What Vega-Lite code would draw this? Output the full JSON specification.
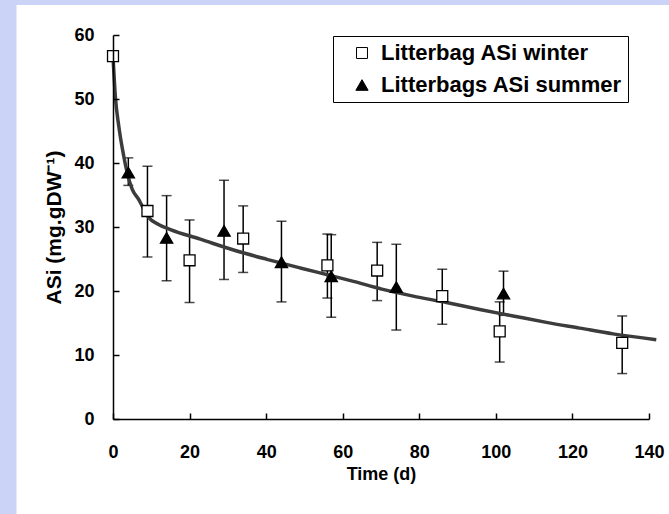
{
  "$schema": "https://vega.github.io/schema/vega-lite/v6.json",
  "width": 536,
  "height": 384,
  "autosize": "none",
  "padding": {"left": 113, "top": 35, "right": 20, "bottom": 95},
  "background": "#CBD4F6",
  "config": {
    "view": {"stroke": null},
    "font": "Liberation Sans",
    "axis": {
      "zindex": 1,
      "grid": false,
      "domainColor": "black",
      "domainWidth": 1.5,
      "tickColor": "black",
      "tickWidth": 1.5,
      "tickSize": -6,
      "labelFont": "Liberation Sans",
      "labelFontSize": 18,
      "labelFontWeight": "bold",
      "labelColor": "black",
      "labelFlush": false,
      "titleFont": "Liberation Sans",
      "titleFontSize": 18,
      "titleFontWeight": "bold",
      "titleColor": "black"
    },
    "legend": {"zindex": 1}
  },
  "datasets": {
    "obs": [
      {"series": "Litterbag ASi winter", "t": 0, "v": 56.7, "lo": null, "hi": null},
      {"series": "Litterbag ASi winter", "t": 9, "v": 32.5, "lo": 25.3, "hi": 39.5},
      {"series": "Litterbag ASi winter", "t": 20, "v": 24.8, "lo": 18.2, "hi": 31.1},
      {"series": "Litterbag ASi winter", "t": 34, "v": 28.2, "lo": 22.9, "hi": 33.3},
      {"series": "Litterbag ASi winter", "t": 56, "v": 24.0, "lo": 18.9, "hi": 28.9},
      {"series": "Litterbag ASi winter", "t": 69, "v": 23.2, "lo": 18.5, "hi": 27.6},
      {"series": "Litterbag ASi winter", "t": 86, "v": 19.2, "lo": 14.8, "hi": 23.4},
      {"series": "Litterbag ASi winter", "t": 101, "v": 13.7, "lo": 8.9, "hi": 18.3},
      {"series": "Litterbag ASi winter", "t": 133, "v": 11.9, "lo": 7.1, "hi": 16.1},
      {"series": "Litterbags ASi summer", "t": 4, "v": 38.5, "lo": 36.5, "hi": 40.8},
      {"series": "Litterbags ASi summer", "t": 14, "v": 28.3, "lo": 21.6, "hi": 34.9},
      {"series": "Litterbags ASi summer", "t": 29, "v": 29.4, "lo": 21.8, "hi": 37.3},
      {"series": "Litterbags ASi summer", "t": 44, "v": 24.5, "lo": 18.3, "hi": 30.9},
      {"series": "Litterbags ASi summer", "t": 57, "v": 22.3, "lo": 15.9, "hi": 28.8},
      {"series": "Litterbags ASi summer", "t": 74, "v": 20.6, "lo": 13.9, "hi": 27.3},
      {"series": "Litterbags ASi summer", "t": 102, "v": 19.6, "lo": 16.2, "hi": 23.1}
    ],
    "fit": [
      {"t": 0, "v": 56.7},
      {"t": 0.6, "v": 50.5},
      {"t": 1.5, "v": 45.8},
      {"t": 2.8, "v": 41.1},
      {"t": 3.7, "v": 38.5},
      {"t": 5.0, "v": 35.9},
      {"t": 6.7, "v": 34.3},
      {"t": 7.6, "v": 33.3},
      {"t": 9.3, "v": 31.5},
      {"t": 11.9, "v": 30.4},
      {"t": 15.0, "v": 29.6},
      {"t": 22.8, "v": 28.1},
      {"t": 31.5, "v": 26.4},
      {"t": 40.2, "v": 24.95},
      {"t": 48.9, "v": 23.6},
      {"t": 57.6, "v": 22.3},
      {"t": 62.8, "v": 21.5},
      {"t": 70.2, "v": 20.3},
      {"t": 78.4, "v": 19.2},
      {"t": 87.1, "v": 18.2},
      {"t": 95.8, "v": 17.1},
      {"t": 104.5, "v": 16.1},
      {"t": 113.2, "v": 15.1},
      {"t": 121.9, "v": 14.2},
      {"t": 130.6, "v": 13.3},
      {"t": 141.9, "v": 12.4}
    ]
  },
  "layer": [
    {
      "data": {"values": [{}]},
      "mark": {"type": "rect", "fill": "white"},
      "encoding": {
        "x": {
          "datum": -25.2,
          "type": "quantitative",
          "scale": {"domain": [0, 140], "nice": false, "zero": false},
          "axis": {
            "title": "Time (d)",
            "zindex": 2,
            "values": [0, 20, 40, 60, 80, 100, 120, 140],
            "labelPadding": 30,
            "titlePadding": 4
          }
        },
        "x2": {"datum": 160},
        "y": {
          "datum": 64.7,
          "type": "quantitative",
          "scale": {"domain": [0, 60], "nice": false},
          "axis": {
            "title": "ASi (mg.gDW⁻¹)",
            "zindex": 2,
            "values": [0, 10, 20, 30, 40, 50, 60],
            "labelPadding": 25,
            "titlePadding": 9,
            "titleFontSize": 21
          }
        },
        "y2": {"datum": -30}
      }
    },
    {
      "data": {"name": "obs"},
      "transform": [{"filter": "datum.lo != null"}],
      "mark": {"type": "rule", "color": "black", "strokeWidth": 1.5},
      "encoding": {
        "x": {"field": "t", "type": "quantitative"},
        "y": {"field": "lo", "type": "quantitative"},
        "y2": {"field": "hi"}
      }
    },
    {
      "data": {"name": "obs"},
      "transform": [{"filter": "datum.lo != null"}],
      "mark": {"type": "tick", "orient": "horizontal", "color": "black", "size": 10, "thickness": 1.5},
      "encoding": {
        "x": {"field": "t", "type": "quantitative"},
        "y": {"field": "lo", "type": "quantitative"}
      }
    },
    {
      "data": {"name": "obs"},
      "transform": [{"filter": "datum.lo != null"}],
      "mark": {"type": "tick", "orient": "horizontal", "color": "black", "size": 10, "thickness": 1.5},
      "encoding": {
        "x": {"field": "t", "type": "quantitative"},
        "y": {"field": "hi", "type": "quantitative"}
      }
    },
    {
      "data": {"name": "fit"},
      "mark": {"type": "line", "color": "#3c3c3c", "strokeWidth": 3.5, "interpolate": "monotone"},
      "encoding": {
        "x": {"field": "t", "type": "quantitative"},
        "y": {"field": "v", "type": "quantitative"}
      }
    },
    {
      "data": {"name": "obs"},
      "mark": {"type": "point", "filled": true, "stroke": "black", "strokeWidth": 1.3, "opacity": 1},
      "encoding": {
        "x": {"field": "t", "type": "quantitative"},
        "y": {"field": "v", "type": "quantitative"},
        "shape": {
          "field": "series",
          "type": "nominal",
          "scale": {"domain": ["Litterbag ASi winter", "Litterbags ASi summer"], "range": ["square", "triangle-up"]},
          "legend": {
            "orient": "none",
            "legendX": 220,
            "legendY": 1,
            "title": null,
            "strokeColor": "black",
            "fillColor": "white",
            "padding": 6,
            "labelFont": "Liberation Sans",
            "labelFontSize": 22,
            "labelFontWeight": "bold",
            "labelColor": "black",
            "labelLimit": 500,
            "labelOffset": 8,
            "symbolOffset": 12,
            "symbolStrokeColor": "black",
            "symbolStrokeWidth": 1,
            "rowPadding": 10
          }
        },
        "fill": {
          "field": "series",
          "type": "nominal",
          "scale": {"domain": ["Litterbag ASi winter", "Litterbags ASi summer"], "range": ["white", "black"]}
        },
        "size": {
          "field": "series",
          "type": "nominal",
          "scale": {"domain": ["Litterbag ASi winter", "Litterbags ASi summer"], "range": [120, 150]}
        }
      }
    }
  ]
}
